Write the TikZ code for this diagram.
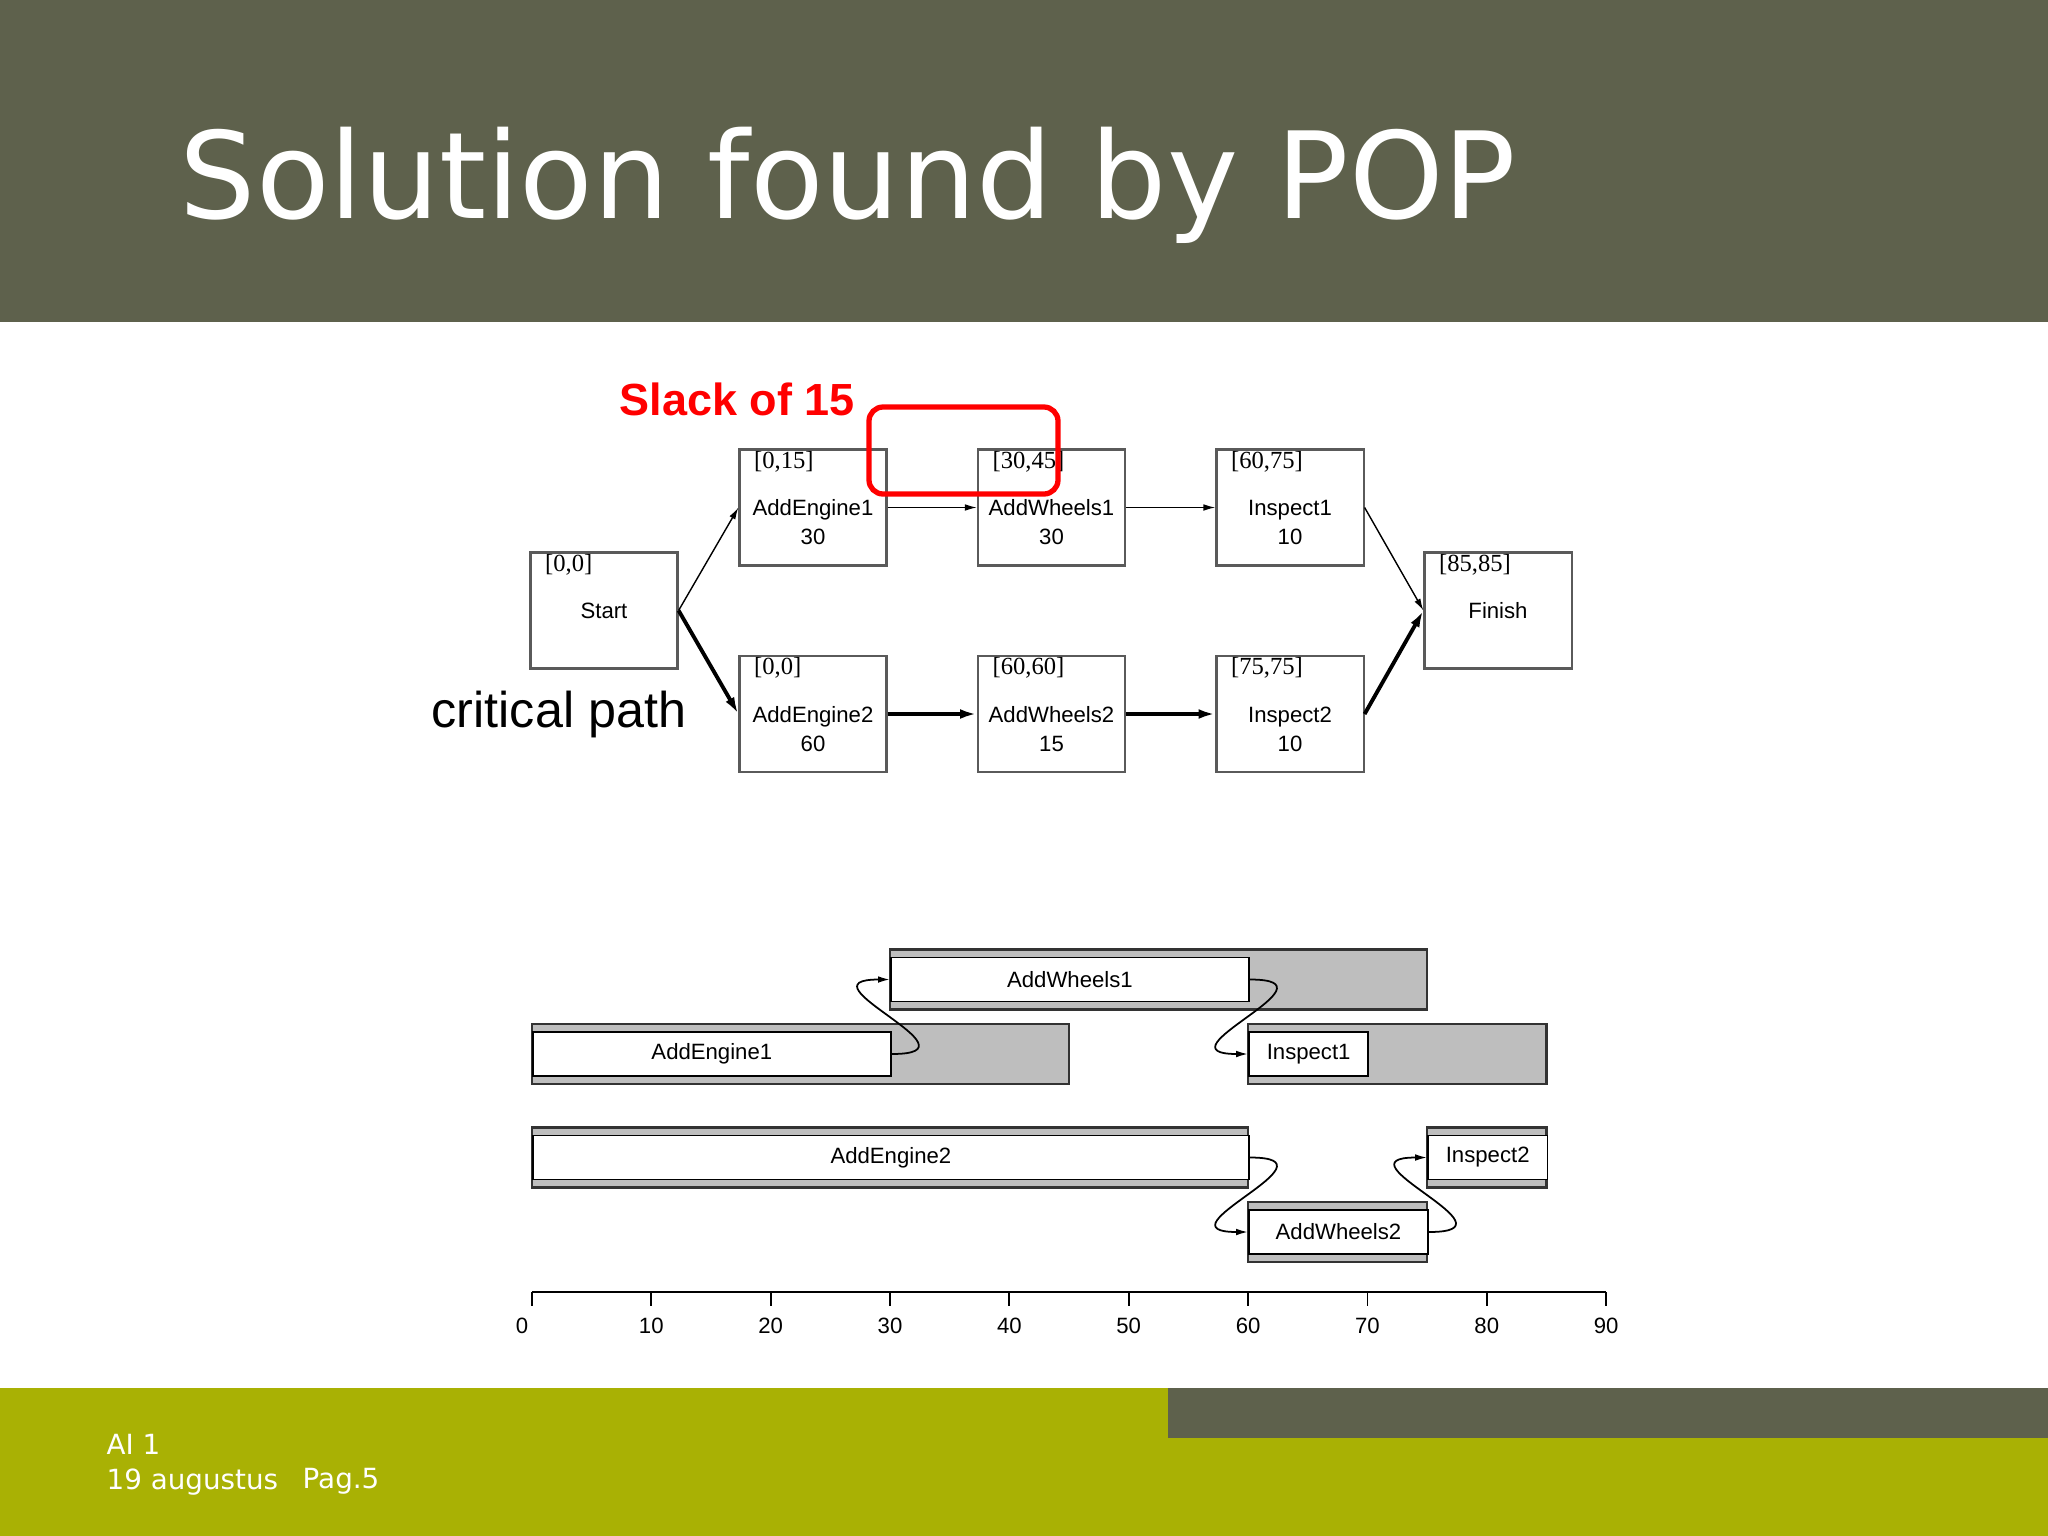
\documentclass[tikz,border=0pt]{standalone}
\usepackage{fontspec}
\setmainfont{Liberation Sans}
\newfontfamily\titlefont{DejaVu Sans}
\newfontfamily\intfont{Liberation Serif}
\usepackage{tikz}
\usetikzlibrary{arrows.meta}
\tikzset{>={Latex[length=3.4pt,width=1.9pt]}}
\definecolor{headcol}{HTML}{5E614C}
\definecolor{footcol}{HTML}{A9B104}
\definecolor{slotgray}{HTML}{BEBEBE}
\definecolor{boxline}{HTML}{5A5A5A}
\colorlet{slackred}{red}
\tikzstyle{taskbox}=[draw=boxline,fill=white,line width=0.6pt,minimum width=1.47cm,minimum height=1.16cm,inner sep=0]
\tikzstyle{link}=[->,line width=0.4pt]
\tikzstyle{critical}=[-{Latex[length=4.8pt,width=2.8pt]},line width=1.1pt]
\tikzstyle{slotbar}=[draw=black!80,fill=slotgray,line width=0.6pt]
\tikzstyle{slotbox}=[draw=black,fill=white,line width=0.5pt,inner sep=0,minimum height=0.44cm,anchor=west]
\tikzstyle{wiggle}=[->,line width=0.5pt]
\newcommand{\boxfont}{\fontsize{6.3}{7}\selectfont}
\def\nettask#1#2#3#4#5{%
  \node[taskbox] (#1) at (#2) {};
  \node[font=\intfont\fontsize{7}{8}\selectfont,anchor=west,inner sep=0] at ([xshift=0.15cm,yshift=-0.13cm]#1.north west) {#3};
  \node[font=\boxfont,inner sep=0,anchor=base] at ([yshift=-0.08cm]#1) {#4};
  \node[font=\boxfont,inner sep=0,anchor=base] at ([yshift=-0.37cm]#1) {#5}}
\def\ganttbar#1#2#3#4#5#6{%
  \draw[slotbar] (#2,{#5-30}) rectangle (#4,{#5+30});
  \node[slotbox,font=\boxfont,minimum width={(#3-#2)*0.1193cm}] (#1) at (#2,#5) {#6}}

\begin{document}
\begin{tikzpicture}[x=0.01cm,y=-0.01cm]
  \useasboundingbox (0,0) rectangle (2048,1536);
  \fill[headcol] (0,0) rectangle (2048,322);
  \fill[footcol] (0,1388) rectangle (2048,1536);
  \fill[headcol] (1168,1388) rectangle (2048,1438);
  \node[white,anchor=base west,inner sep=0,font=\titlefont\fontsize{34.2}{40}\selectfont] (title) at (179,218) {Solution found by POP};
  \node[white,anchor=base west,inner sep=0,font=\titlefont\fontsize{7.9}{9}\selectfont] (course) at (106,1454) {AI 1};
  \node[white,anchor=base west,inner sep=0,font=\titlefont\fontsize{7.9}{9}\selectfont] (date) at (106,1489) {19 augustus};
  \node[white,anchor=base west,inner sep=0,font=\titlefont\fontsize{7.9}{9}\selectfont] (page) at (302,1488) {Pag.5};

  % plan as a network
  \nettask{start}{604,610.5}{[0,0]}{Start}{};
  \nettask{ae1}{813,507.5}{[0,15]}{AddEngine1}{30};
  \nettask{aw1}{1051.5,507.5}{[30,45]}{AddWheels1}{30};
  \nettask{in1}{1290,507.5}{[60,75]}{Inspect1}{10};
  \nettask{ae2}{813,714}{[0,0]}{AddEngine2}{60};
  \nettask{aw2}{1051.5,714}{[60,60]}{AddWheels2}{15};
  \nettask{in2}{1290,714}{[75,75]}{Inspect2}{10};
  \nettask{finish}{1498,610.5}{[85,85]}{Finish}{};
  \draw[link] (start.east) -- (ae1.west);
  \draw[link] (ae1) -- (aw1);
  \draw[link] (aw1) -- (in1);
  \draw[link] (in1.east) -- (finish.west);
  \draw[critical] (start.east) -- (ae2.west);
  \draw[critical] (ae2) -- (aw2);
  \draw[critical] (aw2) -- (in2);
  \draw[critical] (in2.east) -- (finish.west);
  \node[slackred,anchor=base west,inner sep=0,font=\bfseries\fontsize{12.8}{15}\selectfont] (slack) at (619,415) {Slack of 15};
  \draw[slackred,line width=1.5pt,rounded corners=4pt] (869,407) rectangle (1058,494);
  \node[anchor=base west,inner sep=0,font=\fontsize{14.3}{16}\selectfont] (crit) at (431,727) {critical path};

  % plan as a time line
  \begin{scope}[xshift=5.316cm,x=0.1193cm]
    \ganttbar{gaw1}{30}{60}{75}{979.5}{AddWheels1};
    \ganttbar{gae1}{0}{30}{45}{1054}{AddEngine1};
    \ganttbar{gin1}{60}{70}{85}{1054}{Inspect1};
    \ganttbar{gae2}{0}{60}{60}{1157.5}{AddEngine2};
    \ganttbar{gin2}{75}{85}{85}{1157.5}{Inspect2};
    \ganttbar{gaw2}{60}{75}{75}{1232}{AddWheels2};
    \draw[wiggle] (gae1.east) .. controls +(0.95cm,0) and +(-0.95cm,0) .. (gaw1.west);
    \draw[wiggle] (gaw1.east) .. controls +(0.95cm,0) and +(-0.95cm,0) .. (gin1.west);
    \draw[wiggle] (gae2.east) .. controls +(0.95cm,0) and +(-0.95cm,0) .. (gaw2.west);
    \draw[wiggle] (gaw2.east) .. controls +(0.95cm,0) and +(-0.95cm,0) .. (gin2.west);
    \draw[line width=0.6pt] (0,1292) -- (90,1292);
    \foreach \t in {0,10,...,90}
      \draw[line width=0.5pt] (\t,1292) -- (\t,1306) node[below=3.2pt,inner sep=0,xshift={-2.8pt*(\t==0)},font=\fontsize{6.3}{7}\selectfont] {\t};
  \end{scope}
\end{tikzpicture}
\end{document}
